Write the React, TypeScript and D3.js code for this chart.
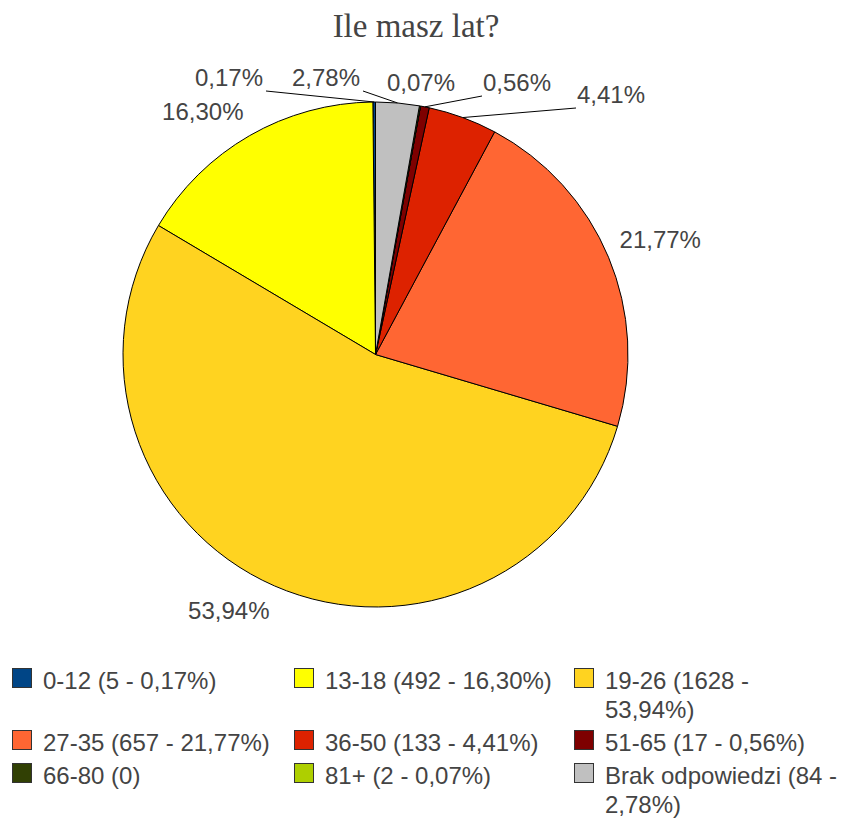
import * as d3 from 'd3'

const categories = ['0-12', '13-18', '19-26', '27-35', '36-50', '51-65', '66-80', '81+', 'Brak odpowiedzi']
const counts = [5, 492, 1628, 657, 133, 17, 0, 2, 84]
const colors = ['#004586', '#ffff00', '#ffd320', '#ff6633', '#dd2200', '#7e0000', '#314004', '#aecf00', '#c0c0c0']
const title = 'Ile masz lat?'

const width = 848, height = 818
const cx = 375.5, cy = 354.5, radius = 252.5
const labelFont = 24
const textColor = '#444'
const sans = '"Liberation Sans", Arial, sans-serif'

// crowded slices near the top get moved labels + leader lines
const labelOverrides: Record<string, { x: number, y: number, anchor: 'start' | 'end', line: boolean }> = {
  '0-12': { x: 263, y: 86, anchor: 'end', line: true },
  'Brak odpowiedzi': { x: 360, y: 86, anchor: 'end', line: true },
  '81+': { x: 387, y: 91, anchor: 'start', line: false },
  '51-65': { x: 483, y: 91, anchor: 'start', line: true },
  '36-50': { x: 577, y: 103, anchor: 'start', line: true },
}

const total = d3.sum(counts)
const fmtPct = (v: number) => (v / total * 100).toFixed(2).replace('.', ',') + '%'

const pie = d3.pie<number>().sort(null).value(d => d).startAngle(0).endAngle(-2 * Math.PI)
const arc = d3.arc<d3.PieArcDatum<number>>().innerRadius(0).outerRadius(radius)
const arcs = pie(counts)

let ctx: CanvasRenderingContext2D | null = null
const measure = (s: string) => {
  if (!ctx) ctx = document.createElement('canvas').getContext('2d')
  if (!ctx) return s.length * labelFont * 0.55
  ctx.font = `${labelFont}px "Liberation Sans"`
  return ctx.measureText(s).width
}

const wrap = (s: string, maxW: number) => {
  const words = s.split(' ')
  const lines: string[] = []
  let cur = ''
  words.forEach(w => {
    const t = cur ? cur + ' ' + w : w
    if (cur && measure(t) > maxW) { lines.push(cur); cur = w } else cur = t
  })
  if (cur) lines.push(cur)
  return lines
}

export default function App() {
  const labels = arcs.map((a, i) => {
    if (counts[i] === 0) return null
    const mid = (a.startAngle + a.endAngle) / 2
    const sx = Math.sin(mid), sy = -Math.cos(mid)
    const text = fmtPct(counts[i])
    const o = labelOverrides[categories[i]]
    if (o) {
      const ex = cx + radius * sx, ey = cy + radius * sy
      const lx = o.anchor === 'end' ? o.x + 3 : o.x - 1
      return (
        <g key={i}>
          {o.line && <line x1={lx} y1={o.y + 5} x2={ex} y2={ey} stroke="#000" strokeWidth={1} />}
          <text x={o.x} y={o.y} textAnchor={o.anchor}>{text}</text>
        </g>
      )
    }
    const r = radius + 12
    const px = cx + r * sx, py = cy + r * sy
    const baseline = sy < 0 ? py - 5 : py + 22
    return <text key={i} x={px} y={baseline} textAnchor={sx >= 0 ? 'start' : 'end'}>{text}</text>
  })

  // legend: 3 columns, rows grow with wrapped lines
  const colX = [12, 294, 574]
  const lineH = 29
  const legendItems = categories.map((c, i) => {
    const txt = counts[i] === 0 ? `${c} (0)` : `${c} (${counts[i]} - ${fmtPct(counts[i])})`
    const col = i % 3
    const maxW = col === 2 ? width - (colX[col] + 31) - 6 : 262
    return { c, i, col, row: Math.floor(i / 3), lines: wrap(txt, maxW) }
  })
  const rowBase: number[] = []
  let yb = 689
  for (let r = 0; r < 3; r++) {
    rowBase.push(yb)
    const n = d3.max(legendItems.filter(d => d.row === r), d => d.lines.length) || 1
    yb += (n - 1) * lineH + 33
  }

  return (
    <svg width={width} height={height} style={{ display: 'block', position: 'absolute', left: 0, top: 0 }}>
      <rect width={width} height={height} fill="#fff" />
      <text x={416} y={37} textAnchor="middle" fontFamily='"Liberation Serif", "Times New Roman", serif' fontSize={33} fill={textColor}>{title}</text>
      <g transform={`translate(${cx},${cy})`}>
        {arcs.map((a, i) => (
          <path key={i} d={arc(a) || ''} fill={colors[i]} stroke="#000" strokeWidth={1} strokeLinejoin="round" />
        ))}
      </g>
      <g fontFamily={sans} fontSize={labelFont} fill={textColor}>{labels}</g>
      <g fontFamily={sans} fontSize={labelFont} fill={textColor}>
        {legendItems.map(d => (
          <g key={d.i}>
            <rect x={colX[d.col] + 0.5} y={rowBase[d.row] - 20.5} width={19} height={19} fill={colors[d.i]} stroke="#333" strokeWidth={1} />
            {d.lines.map((l, k) => (
              <text key={k} x={colX[d.col] + 31} y={rowBase[d.row] + k * lineH}>{l}</text>
            ))}
          </g>
        ))}
      </g>
    </svg>
  )
}
